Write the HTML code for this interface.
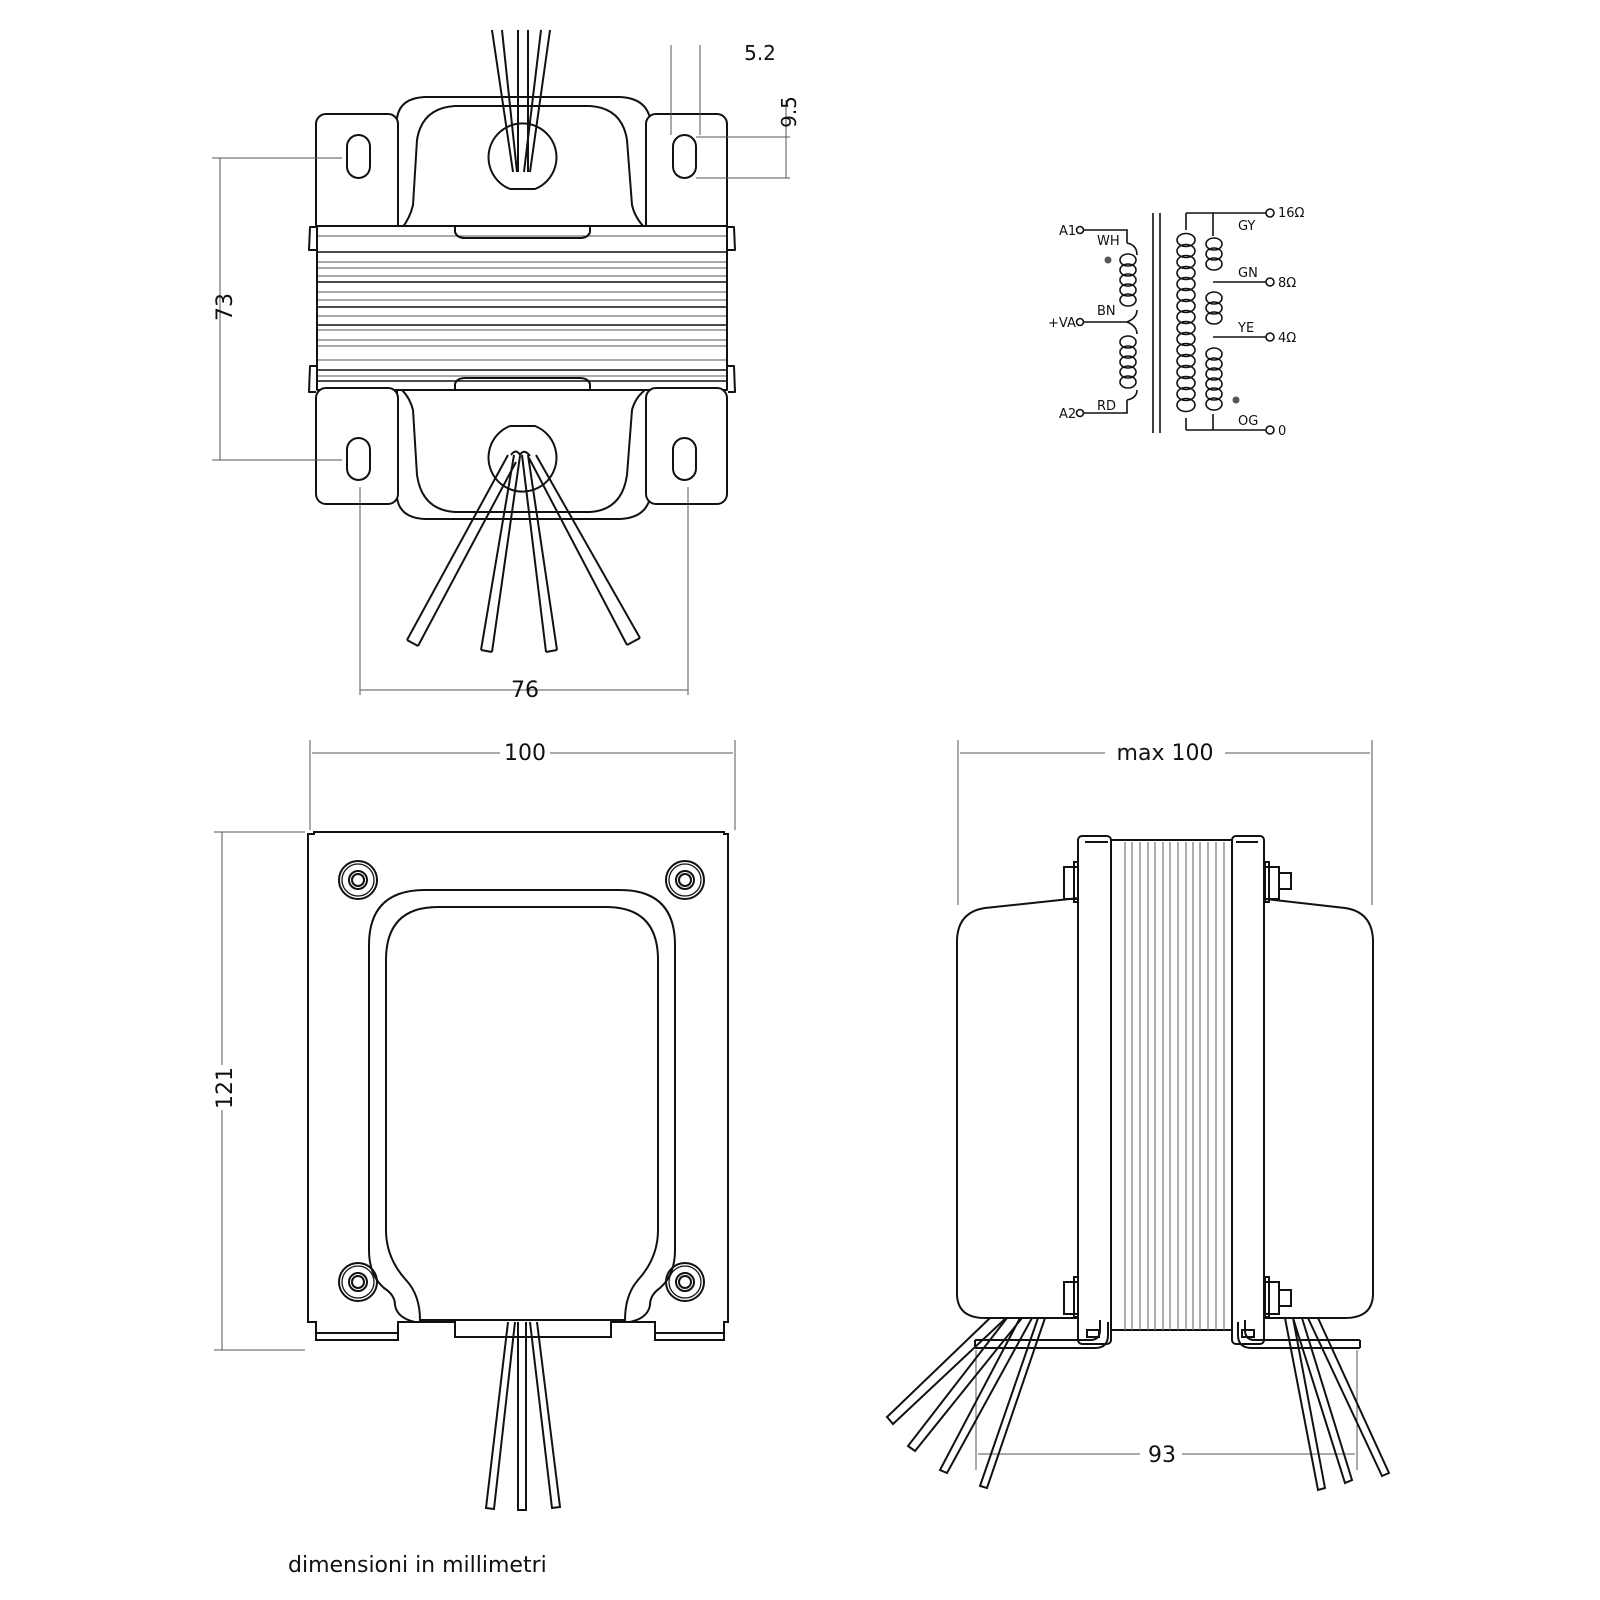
<!DOCTYPE html>
<html><head><meta charset="utf-8"><style>
html,body{margin:0;padding:0;background:#fff}
svg{display:block}
text{font-family:"DejaVu Sans","Liberation Sans",sans-serif;fill:#111}
</style></head><body>
<svg width="1600" height="1600" viewBox="0 0 1600 1600" xmlns="http://www.w3.org/2000/svg">
<g fill="none" stroke="#111" stroke-width="2" stroke-linejoin="round">
<!-- ===== TOP VIEW ===== -->
<path d="M492 30 L513 172 M502 30 L517 172 M518 30 L518 172 M528 30 L528 172 M550 30 L530 172 M541 30 L524 172"/>
<path d="M397 228 L397 118 Q400 98 425 97 L620 97 Q645 98 650 118 L650 228"/>
<path d="M402 228 Q410 218 413 205 L417 140 Q422 108 455 106 L590 106 Q622 108 627 140 L632 205 Q635 218 645 228"/>
<path d="M510 189 L535 189 A34 34 0 1 0 510 189" />
<rect x="316" y="114" width="82" height="120" rx="10" fill="#fff"/>
<rect x="646" y="114" width="81" height="120" rx="10" fill="#fff"/>
<rect x="347" y="135" width="23" height="43" rx="11.5"/>
<rect x="673" y="135" width="23" height="43" rx="11.5"/>
<rect x="317" y="226" width="410" height="164" fill="#fff"/>
<g stroke-width="1.2" stroke="#777">
<path d="M318 236H726M318 262H726M318 268H726M318 276H726M318 292H726M318 300H726M318 316H726M318 330H726M318 340H726M318 346H726M318 360H726M318 376H726"/>
</g>
<g stroke-width="1.6">
<path d="M318 252H726M318 282H726M318 307H726M318 325H726M318 370H726M318 381H726"/>
</g>
<path d="M455 226 L455 232 Q457 238 465 238 L580 238 Q588 238 590 232 L590 226"/>
<path d="M455 390 L455 384 Q457 378 465 378 L580 378 Q588 378 590 384 L590 390"/>
<path d="M316 227 L310 227 L309 250 L316 250 M728 227 L734 227 L735 250 L728 250"/>
<path d="M316 366 L310 366 L309 392 L316 392 M728 366 L734 366 L735 392 L728 392"/>
<path d="M397 390 L397 498 Q400 518 425 519 L620 519 Q645 518 650 498 L650 390"/>
<path d="M402 390 Q410 398 413 410 L417 475 Q422 510 455 512 L590 512 Q622 510 627 475 L632 410 Q635 398 645 390"/>
<path d="M510 426 L535 426 A34 34 0 1 1 510 426"/>
<rect x="316" y="388" width="82" height="116" rx="10" fill="#fff"/>
<rect x="646" y="388" width="81" height="116" rx="10" fill="#fff"/>
<rect x="347" y="438" width="23" height="42" rx="11.5"/>
<rect x="673" y="438" width="23" height="42" rx="11.5"/>
<path d="M508 455 L407 640 M516 462 L418 646" />
<path d="M514 455 L481 650 M520 456 L492 652" />
<path d="M522 455 L546 652 M528 455 L557 650" />
<path d="M529 458 L627 645 M536 455 L640 638" />
<path d="M407 640 L418 646 M481 650 L492 652 M546 652 L557 650 M627 645 L640 638"/>
<path d="M511 455 Q516 448 520 455 Q524 448 530 456"/>
</g>
<g stroke="#555" stroke-width="1" fill="none">
<path d="M212 158 H342 M212 460 H342 M220 158 V460"/>
<path d="M360 487 V695 M688 487 V695 M360 690 H688"/>
<path d="M671 45 V135 M700 45 V135 M696 137 H790 M696 178 H790 M786 100 V178"/>
<path d="M310 740 V830 M735 740 V830 M312 753 H500 M550 753 H733"/>
<path d="M214 832 H305 M214 1350 H305 M222 832 V1065 M222 1110 V1350"/>
<path d="M958 740 V905 M1372 740 V905 M960 753 H1105 M1225 753 H1370"/>
<path d="M976 1350 V1470 M1357 1350 V1470 M978 1454 H1140 M1182 1454 H1355"/>
</g>
<text x="760" y="60" font-size="20" text-anchor="middle">5.2</text>
<text x="796" y="112" font-size="20" transform="rotate(-90 796 112)" text-anchor="middle">9.5</text>
<text x="232" y="307" font-size="22" transform="rotate(-90 232 307)" text-anchor="middle">73</text>
<text x="525" y="697" font-size="22" text-anchor="middle">76</text>
<text x="525" y="760" font-size="22" text-anchor="middle">100</text>
<text x="232" y="1088" font-size="22" transform="rotate(-90 232 1088)" text-anchor="middle">121</text>
<text x="1165" y="760" font-size="22" text-anchor="middle">max  100</text>
<text x="1162" y="1462" font-size="22" text-anchor="middle">93</text>
<text x="288" y="1572" font-size="22">dimensioni  in  millimetri</text>

<!-- ===== BOTTOM VIEW ===== -->
<g fill="none" stroke="#111" stroke-width="2">
<path d="M508 1322 L486 1508 L494 1509 L515 1322 M518 1322 L518 1510 L526 1510 L526 1322 M530 1322 L552 1508 L560 1507 L537 1322"/>
<path d="M308 834 L314 834 L314 832 L724 832 L724 834 L728 834 L728 1322 L724 1322 L724 1340 L655 1340 L655 1322 L611 1322 L611 1337 L455 1337 L455 1322 L398 1322 L398 1340 L316 1340 L316 1322 L308 1322 Z"/>
<path d="M316 1333 H398 M655 1333 H724"/>
<path d="M415 1322 Q397 1318 395 1305 Q395 1295 384 1288 Q369 1275 369 1250 V945 Q369 890 425 890 H620 Q675 890 675 945 V1250 Q675 1275 660 1288 Q650 1295 650 1305 Q648 1318 630 1322"/>
<path d="M420 1320 Q420 1295 406 1280 Q386 1258 386 1230 V960 Q386 907 438 907 H606 Q658 907 658 960 V1230 Q658 1258 638 1280 Q625 1295 625 1320 Z"/>
<g>
<circle cx="358" cy="880" r="19"/><circle cx="358" cy="880" r="16" stroke-width="1.3"/><circle cx="358" cy="880" r="9"/><circle cx="358" cy="880" r="6"/>
<circle cx="685" cy="880" r="19"/><circle cx="685" cy="880" r="16" stroke-width="1.3"/><circle cx="685" cy="880" r="9"/><circle cx="685" cy="880" r="6"/>
<circle cx="358" cy="1282" r="19"/><circle cx="358" cy="1282" r="16" stroke-width="1.3"/><circle cx="358" cy="1282" r="9"/><circle cx="358" cy="1282" r="6"/>
<circle cx="685" cy="1282" r="19"/><circle cx="685" cy="1282" r="16" stroke-width="1.3"/><circle cx="685" cy="1282" r="9"/><circle cx="685" cy="1282" r="6"/>
</g>
</g>

<!-- ===== SIDE VIEW ===== -->
<g fill="none" stroke="#111" stroke-width="2">
<path d="M1079 898 L985 908 Q958 912 957 940 L957 1295 Q958 1318 985 1318 L1079 1318"/>
<path d="M1257 898 L1345 908 Q1372 912 1373 940 L1373 1295 Q1372 1318 1345 1318 L1257 1318"/>
<path d="M990 1318 L887 1417 L893 1424 L1006 1318 M1007 1318 L908 1446 L915 1451 L1022 1318 M1020 1318 L940 1470 L947 1473 L1032 1318 M1038 1318 L980 1486 L987 1488 L1045 1318"/>
<path d="M1285 1318 L1318 1490 L1325 1488 L1293 1318 M1293 1318 L1345 1483 L1352 1480 L1302 1318 M1308 1318 L1382 1476 L1389 1473 L1318 1318"/>
<rect x="1078" y="836" width="33" height="508" rx="4" fill="#fff"/>
<rect x="1232" y="836" width="32" height="508" rx="4" fill="#fff"/>
<path d="M975 1340 H1090 Q1100 1340 1100 1330 V1320 M975 1348 H1095 Q1108 1348 1108 1335 V1322 M975 1340 V1348"/>
<path d="M1360 1340 H1255 Q1245 1340 1245 1330 V1320 M1360 1348 H1252 Q1238 1348 1238 1335 V1322 M1360 1340 V1348"/>
<rect x="1111" y="840" width="121" height="490" fill="#fff"/>
<path d="M1085 842 H1108 M1236 842 H1258"/>
<rect x="1087" y="1330" width="12" height="7"/><rect x="1242" y="1330" width="12" height="7"/>
<rect x="1064" y="867" width="14" height="32"/><rect x="1074" y="862" width="4" height="40"/>
<rect x="1265" y="867" width="14" height="32"/><rect x="1265" y="862" width="4" height="40"/><rect x="1279" y="873" width="12" height="16"/>
<rect x="1064" y="1282" width="14" height="32"/><rect x="1074" y="1277" width="4" height="40"/>
<rect x="1265" y="1282" width="14" height="32"/><rect x="1265" y="1277" width="4" height="40"/><rect x="1279" y="1290" width="12" height="16"/>
</g>
<g stroke="#777" stroke-width="1.2">
<path d="M1125 842V1330M1132 842V1330M1140 842V1330M1148 842V1330M1155 842V1330M1163 842V1330M1170 842V1330M1178 842V1330M1186 842V1330M1193 842V1330M1200 842V1330M1208 842V1330M1216 842V1330M1224 842V1330"/>
</g>

<!-- ===== SCHEMATIC ===== -->
<g fill="none" stroke="#111" stroke-width="1.6">
<circle cx="1080" cy="230" r="3.5"/><circle cx="1080" cy="322" r="3.5"/><circle cx="1080" cy="413" r="3.5"/>
<path d="M1084 230 H1127 V243 M1084 322 H1127 M1084 413 H1127 V400"/>
<path d="M1127 243 Q1137 245 1137 255 M1127 322 Q1137 318 1137 310 M1127 322 Q1137 326 1137 334 M1127 400 Q1137 398 1137 390"/>
<ellipse cx="1128" cy="260" rx="8" ry="6"/><ellipse cx="1128" cy="270" rx="8" ry="6"/><ellipse cx="1128" cy="280" rx="8" ry="6"/><ellipse cx="1128" cy="290" rx="8" ry="6"/><ellipse cx="1128" cy="300" rx="8" ry="6"/>
<ellipse cx="1128" cy="342" rx="8" ry="6"/><ellipse cx="1128" cy="352" rx="8" ry="6"/><ellipse cx="1128" cy="362" rx="8" ry="6"/><ellipse cx="1128" cy="372" rx="8" ry="6"/><ellipse cx="1128" cy="382" rx="8" ry="6"/>
<path d="M1153 213 V433 M1160 213 V433"/>
<path d="M1186 213 V230 M1186 418 V430 M1186 213 H1266 M1186 430 H1266 M1213 213 V236 M1213 282 H1266 M1213 337 H1266 M1213 430 V414"/>
<g>
<ellipse cx="1186" cy="240" rx="9" ry="6.5"/><ellipse cx="1186" cy="251" rx="9" ry="6.5"/><ellipse cx="1186" cy="262" rx="9" ry="6.5"/><ellipse cx="1186" cy="273" rx="9" ry="6.5"/><ellipse cx="1186" cy="284" rx="9" ry="6.5"/><ellipse cx="1186" cy="295" rx="9" ry="6.5"/><ellipse cx="1186" cy="306" rx="9" ry="6.5"/><ellipse cx="1186" cy="317" rx="9" ry="6.5"/><ellipse cx="1186" cy="328" rx="9" ry="6.5"/><ellipse cx="1186" cy="339" rx="9" ry="6.5"/><ellipse cx="1186" cy="350" rx="9" ry="6.5"/><ellipse cx="1186" cy="361" rx="9" ry="6.5"/><ellipse cx="1186" cy="372" rx="9" ry="6.5"/><ellipse cx="1186" cy="383" rx="9" ry="6.5"/><ellipse cx="1186" cy="394" rx="9" ry="6.5"/><ellipse cx="1186" cy="405" rx="9" ry="6.5"/>
<ellipse cx="1214" cy="244" rx="8" ry="6"/><ellipse cx="1214" cy="254" rx="8" ry="6"/><ellipse cx="1214" cy="264" rx="8" ry="6"/>
<ellipse cx="1214" cy="298" rx="8" ry="6"/><ellipse cx="1214" cy="308" rx="8" ry="6"/><ellipse cx="1214" cy="318" rx="8" ry="6"/>
<ellipse cx="1214" cy="354" rx="8" ry="6"/><ellipse cx="1214" cy="364" rx="8" ry="6"/><ellipse cx="1214" cy="374" rx="8" ry="6"/><ellipse cx="1214" cy="384" rx="8" ry="6"/><ellipse cx="1214" cy="394" rx="8" ry="6"/><ellipse cx="1214" cy="404" rx="8" ry="6"/>
</g>
<circle cx="1270" cy="213" r="4" fill="#fff"/><circle cx="1270" cy="282" r="4" fill="#fff"/><circle cx="1270" cy="337" r="4" fill="#fff"/><circle cx="1270" cy="430" r="4" fill="#fff"/>
</g>
<circle cx="1108" cy="260" r="3.5" fill="#555"/>
<circle cx="1236" cy="400" r="3.5" fill="#555"/>
<g font-size="13">
<text x="1059" y="235">A1</text><text x="1097" y="245">WH</text>
<text x="1048" y="327">+VA</text><text x="1097" y="315">BN</text>
<text x="1059" y="418">A2</text><text x="1097" y="410">RD</text>
<text x="1238" y="230">GY</text><text x="1238" y="277">GN</text><text x="1238" y="332">YE</text><text x="1238" y="425">OG</text>
<text x="1278" y="217">16Ω</text><text x="1278" y="287">8Ω</text><text x="1278" y="342">4Ω</text><text x="1278" y="435">0</text>
</g>
</svg>
</body></html>
